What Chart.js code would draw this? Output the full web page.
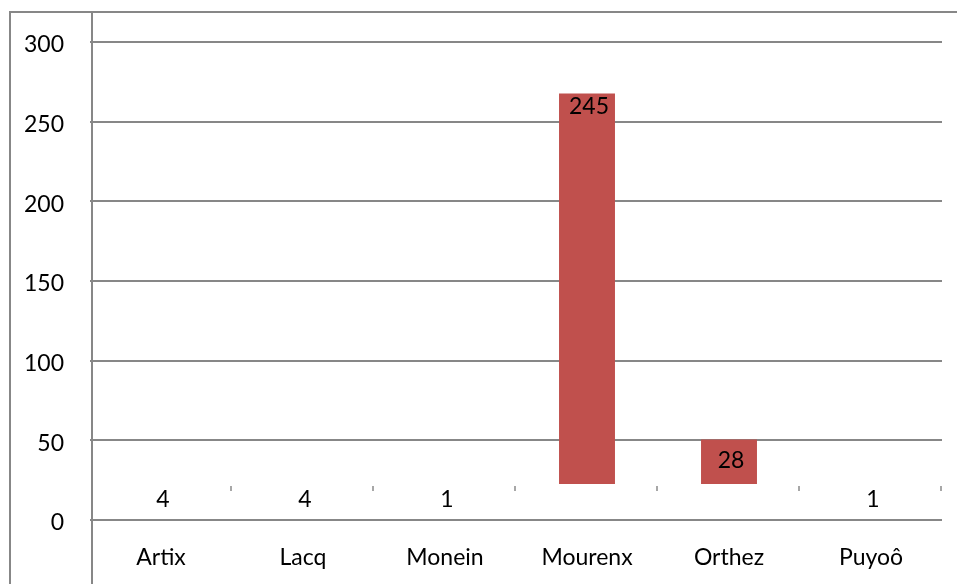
<!DOCTYPE html>
<html>
<head>
<meta charset="utf-8">
<script src="https://cdn.jsdelivr.net/npm/chart.js@4"></script>
<style>
    html, body { margin: 0; padding: 0; background: #fff; }
    #wrap { position: relative; width: 957px; height: 584px; }
</style>
</head>
<body>
<div id="wrap"><canvas id="chart"></canvas></div>
<script>
// ─── Donnees ───────────────────────────────────────────────
const communes = ['Artix', 'Lacq', 'Monein', 'Mourenx', 'Orthez', 'Puyoô'];
const effectifs = [4, 4, 1, 245, 28, 1];
const yTicks = [0, 50, 100, 150, 200, 250, 300];
const baseBarres = 22.6; // les barres partent de la ligne de l'axe horizontal

const gris = '#878787';
const rouge = '#C0504D';
const police = 'Lato, "Open Sans", sans-serif';

// cadre + axe vertical + petites graduations
const cadre = {
    id: 'cadre',
    afterDraw(chart) {
        const { ctx, chartArea, scales } = chart;
        ctx.save();
        ctx.strokeStyle = gris;
        ctx.lineWidth = 2;
        ctx.beginPath();
        ctx.moveTo(10, chart.height);
        ctx.lineTo(10, 12);
        ctx.lineTo(chart.width, 12);
        ctx.moveTo(chartArea.left + 2, 12);
        ctx.lineTo(chartArea.left + 2, chart.height);
        ctx.stroke();

        const yAxe = scales.y.getPixelForValue(baseBarres);
        ctx.strokeStyle = '#8a8a8a';
        ctx.lineWidth = 1.5;
        ctx.beginPath();
        communes.forEach((c, i) => {
            const x = (scales.x.getPixelForValue(i) + (i < communes.length - 1
                ? scales.x.getPixelForValue(i + 1)
                : 2 * scales.x.getPixelForValue(i) - scales.x.getPixelForValue(i - 1))) / 2 - 1;
            ctx.moveTo(x, yAxe + 2);
            ctx.lineTo(x, yAxe + 7);
        });
        ctx.stroke();
        ctx.restore();
    }
};

// etiquettes de valeurs
const etiquettes = {
    id: 'etiquettes',
    afterDatasetsDraw(chart) {
        const { ctx } = chart;
        const meta = chart.getDatasetMeta(0);
        ctx.save();
        ctx.font = '23px ' + police;
        ctx.fillStyle = '#000';
        ctx.textAlign = 'center';
        ctx.textBaseline = 'middle';
        meta.data.forEach((bar, i) => {
            const h = bar.base - bar.y;
            let y;
            if (h > 100) y = bar.y + 13;
            else if (h > 30) y = (bar.y + bar.base) / 2 - 1;
            else y = bar.base + 16;
            ctx.fillText(String(effectifs[i]), bar.x + 2, y);
        });
        ctx.restore();
    }
};

new Chart(document.getElementById('chart'), {
    type: 'bar',
    data: {
        labels: communes,
        datasets: [{
            data: effectifs.map(v => [baseBarres, baseBarres + v]),
            backgroundColor: c => effectifs[c.dataIndex] < 10 ? 'rgba(0,0,0,0)' : rouge,
            borderWidth: 0,
            categoryPercentage: 1,
            barPercentage: 0.394
        }]
    },
    options: {
        responsive: true,
        maintainAspectRatio: false,
        animation: false,
        layout: { padding: { top: 42, right: 15, left: 0, bottom: 0 } },
        plugins: {
            legend: { display: false },
            tooltip: { enabled: false }
        },
        scales: {
            x: {
                grid: { display: false, drawTicks: false },
                border: { display: false },
                ticks: { color: '#000', font: { family: police, size: 23 }, padding: 24, maxRotation: 0 },
                afterFit: s => { s.height = 64; }
            },
            y: {
                min: 0,
                max: 300,
                afterBuildTicks: s => { s.ticks = yTicks.map(v => ({ value: v })); },
                grid: { color: gris, lineWidth: 2, drawTicks: false },
                border: { display: false },
                ticks: { color: '#000', font: { family: police, size: 23 }, padding: 26, labelOffset: 3 },
                afterFit: s => { s.width = 90; }
            }
        }
    },
    plugins: [cadre, etiquettes]
});
</script>
</body>
</html>
